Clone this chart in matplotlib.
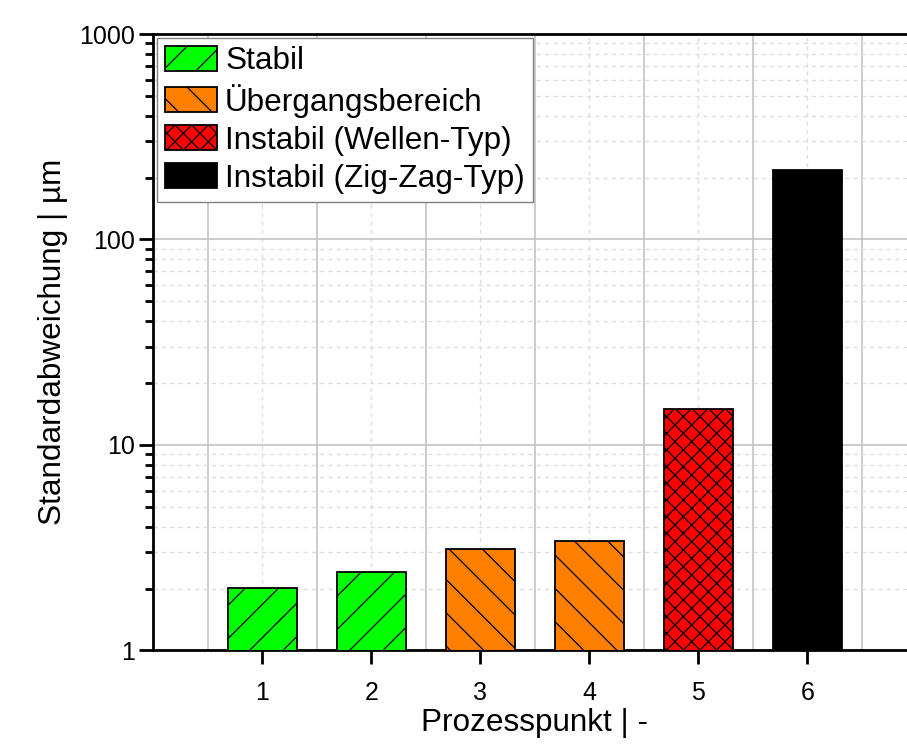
import numpy as np
import matplotlib
matplotlib.use("Agg")
import matplotlib.pyplot as plt
from matplotlib.patches import Patch
from matplotlib.ticker import FixedLocator, LogLocator, FuncFormatter, NullFormatter

plt.rcParams.update({"font.family": ["Liberation Sans", "DejaVu Sans"], "hatch.linewidth": 0.9})

points = [1, 2, 3, 4, 5, 6]
std_um = [2.02, 2.40, 3.11, 3.41, 15.0, 218.0]
regime = [0, 0, 1, 1, 2, 3]

regime_names = ["Stabil", "Übergangsbereich", "Instabil (Wellen-Typ)", "Instabil (Zig-Zag-Typ)"]
regime_colors = ["#00ff00", "#ff8000", "#ff0000", "#000000"]
regime_hatch = ["/", "\\", "xx", ""]

fig = plt.figure(figsize=(9.07, 7.44), dpi=100)
ax = fig.add_axes([0.1692, 0.1257, 0.8412, 0.8286])

for x, v, r in zip(points, std_um, regime):
    ax.bar(x, v, width=0.64, bottom=0, color=regime_colors[r], hatch=regime_hatch[r],
           edgecolor="black", linewidth=1.3, zorder=3)

ax.set_yscale("log")
ax.set_ylim(1, 1000)
ax.set_xlim(0, 7)

ax.xaxis.set_major_locator(FixedLocator(points))
ax.xaxis.set_minor_locator(FixedLocator(np.arange(0.5, 7.0, 1.0)))
ax.yaxis.set_major_locator(LogLocator(base=10))
ax.yaxis.set_minor_locator(LogLocator(base=10, subs=np.arange(2, 10)))
ax.yaxis.set_major_formatter(FuncFormatter(lambda v, p: f"{v:g}"))
ax.yaxis.set_minor_formatter(NullFormatter())

# vertical: solid between points, dashed at the points; horizontal: solid decades, dashed minors
ax.grid(True, axis="x", which="minor", color="#c4c4c4", lw=1.2, ls="-", zorder=0)
ax.grid(True, axis="x", which="major", color="#dedede", lw=1.0, ls=(0, (3, 3)), zorder=0)
ax.grid(True, axis="y", which="major", color="#c4c4c4", lw=1.2, ls="-", zorder=0)
ax.grid(True, axis="y", which="minor", color="#dedede", lw=1.0, ls=(0, (3, 3)), zorder=0)

ax.tick_params(axis="x", which="major", direction="out", length=10, width=2, labelsize=18, pad=12)
ax.tick_params(axis="x", which="minor", length=0)
ax.tick_params(axis="y", which="major", direction="out", length=10, width=2, labelsize=18, pad=3)
ax.tick_params(axis="y", which="minor", direction="out", length=6, width=2)

for side in ["left", "bottom", "top"]:
    ax.spines[side].set_linewidth(2)
    ax.spines[side].set_color("black")
ax.spines["right"].set_visible(False)

ax.set_xlabel("Prozesspunkt | -", fontsize=22.7, labelpad=2)
ax.set_ylabel("Standardabweichung | µm", fontsize=22.7, labelpad=8)

handles = [Patch(facecolor=c, edgecolor="black", hatch=h, linewidth=1.3)
           for c, h in zip(regime_colors, regime_hatch)]
leg = ax.legend(handles, regime_names, loc="upper left", fontsize=22.7, fancybox=False,
                framealpha=1, edgecolor="#808080", handlelength=1.65, handleheight=0.85,
                handletextpad=0.25, labelspacing=0.24, borderpad=0.25, borderaxespad=0.12)
leg.get_frame().set_linewidth(1.0)
leg.set_zorder(5)

fig.savefig("out.png", dpi=100)
